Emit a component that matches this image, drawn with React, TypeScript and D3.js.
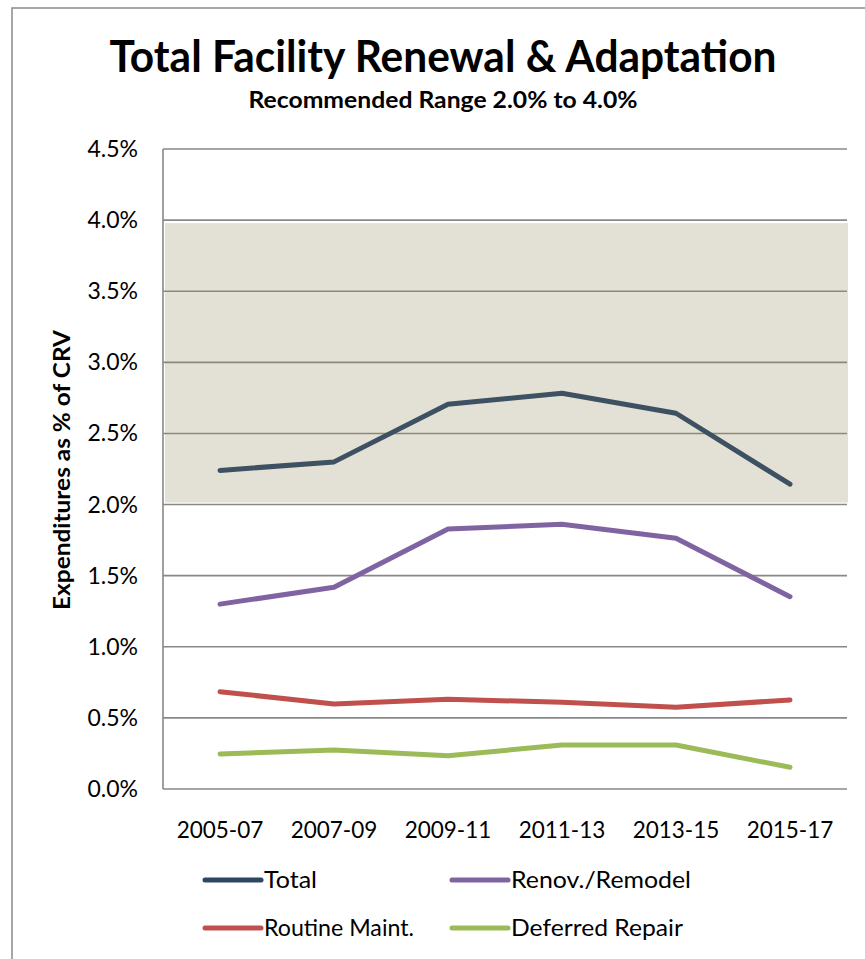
import React from "react";
import * as d3 from "d3";

const categories = ["2005-07", "2007-09", "2009-11", "2011-13", "2013-15", "2015-17"];
const totalValues = [2.24, 2.30, 2.705, 2.783, 2.642, 2.143];
const renovValues = [1.30, 1.418, 1.828, 1.861, 1.763, 1.352];
const routineValues = [0.684, 0.598, 0.631, 0.610, 0.575, 0.626];
const deferredValues = [0.246, 0.274, 0.234, 0.309, 0.309, 0.153];
const yTicks = [0, 0.5, 1.0, 1.5, 2.0, 2.5, 3.0, 3.5, 4.0, 4.5];
const recommendedRange = [2.0, 4.0];
const seriesNames = ["Total", "Renov./Remodel", "Routine Maint.", "Deferred Repair"];

const W = 865;
const H = 959;
const FONT = "Lato, 'Open Sans', sans-serif";

export default function App() {
  const left = 163;
  const right = 847;
  const top = 149;
  const bottom = 789;

  const x = d3.scalePoint<string>().domain(categories).range([left, right]).padding(0.5);
  const y = d3.scaleLinear().domain([0, 4.5]).range([bottom, top]);

  const series = [
    { name: seriesNames[0], values: totalValues, color: "#3E5162", legend: "#2C4663" },
    { name: seriesNames[1], values: renovValues, color: "#8064A2", legend: "#8064A2" },
    { name: seriesNames[2], values: routineValues, color: "#C0504D", legend: "#C0504D" },
    { name: seriesNames[3], values: deferredValues, color: "#9BBB59", legend: "#9BBB59" },
  ];

  const line = d3
    .line<number>()
    .x((_, i) => x(categories[i]) as number)
    .y((d) => y(d));

  const legendPos = [
    { lx: 205, ly: 880 },
    { lx: 452, ly: 880 },
    { lx: 205, ly: 928 },
    { lx: 452, ly: 928 },
  ];
  const legendWidths = [53, 180, 150, 172];

  const bandTop = y(recommendedRange[1]) + 3;
  const bandBottom = y(recommendedRange[0]) - 2;

  return (
    <svg width={W} height={H} style={{ display: "block", position: "absolute", left: 0, top: 0 }}>
      <rect x={0} y={0} width={W} height={H} fill="#ffffff" />
      <rect x={12} y={8} width={W + 20} height={H + 20} fill="none" stroke="#8a8a8a" strokeWidth={1.5} />

      <text x={443} y={72} textAnchor="middle" fontFamily={FONT} fontWeight={700} fontSize={44} textLength={667} lengthAdjust="spacingAndGlyphs" fill="#000">
        Total Facility Renewal &amp; Adaptation
      </text>
      <text x={443} y={108} textAnchor="middle" fontFamily={FONT} fontWeight={700} fontSize={23} textLength={389} lengthAdjust="spacingAndGlyphs" fill="#000">
        Recommended Range 2.0% to 4.0%
      </text>

      <rect x={left + 2} y={bandTop} width={right - left - 1} height={bandBottom - bandTop} fill="#E3E1D5" />

      {yTicks.map((t) => {
        const inBand = t > recommendedRange[0] && t < recommendedRange[1];
        return (
          <line key={"g" + t} x1={left} x2={right} y1={y(t)} y2={y(t)} stroke={inBand ? "#8C897B" : "#888888"} strokeWidth={1.6} />
        );
      })}
      <line x1={left} x2={left} y1={top} y2={bottom} stroke="#888888" strokeWidth={1.6} />

      {yTicks.map((t) => (
        <text key={"t" + t} x={138} y={y(t) + 8} textAnchor="end" fontFamily={FONT} fontSize={23} fill="#000">
          {d3.format(".1f")(t) + "%"}
        </text>
      ))}

      {categories.map((c) => (
        <text key={c} x={x(c) as number} y={838} textAnchor="middle" fontFamily={FONT} fontSize={22.5} fill="#000">
          {c}
        </text>
      ))}

      <text transform={`translate(70,${470}) rotate(-90)`} textAnchor="middle" fontFamily={FONT} fontWeight={700} fontSize={23} textLength={280} lengthAdjust="spacingAndGlyphs" fill="#000">
        Expenditures as % of CRV
      </text>

      {series.map((s) => (
        <path key={s.name} d={line(s.values) || ""} fill="none" stroke={s.color} strokeWidth={5} strokeLinecap="round" strokeLinejoin="round" />
      ))}

      {series.map((s, i) => {
        const p = legendPos[i];
        return (
          <g key={"l" + s.name}>
            <line x1={p.lx} x2={p.lx + 56} y1={p.ly} y2={p.ly} stroke={s.legend} strokeWidth={5} strokeLinecap="round" />
            <text x={p.lx + 59} y={p.ly + 8} fontFamily={FONT} fontSize={23.5} textLength={legendWidths[i]} lengthAdjust="spacingAndGlyphs" fill="#000">
              {s.name}
            </text>
          </g>
        );
      })}
    </svg>
  );
}
